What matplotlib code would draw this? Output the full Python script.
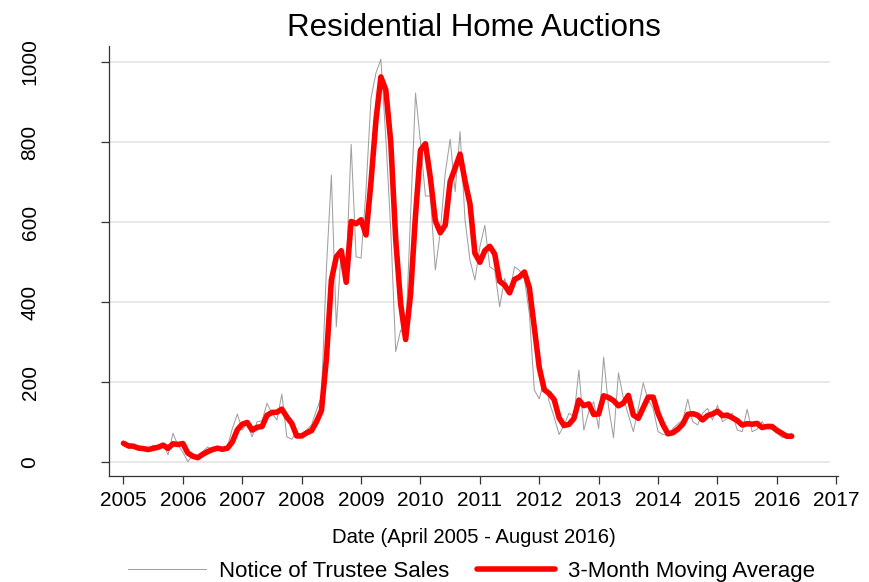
import numpy as np
import pandas as pd
import matplotlib
matplotlib.use('Agg')
import matplotlib.pyplot as plt

plt.rcParams['font.family'] = ['Liberation Sans', 'DejaVu Sans']

# Monthly notice of trustee sales (first point at 2005.0)
sales = [
    47, 34, 38, 33, 30, 31, 42, 38, 47, 18,
    72, 42, 25, 1, 18, 14, 26, 38, 30, 36,
    30, 38, 84, 120, 80, 97, 63, 101, 103, 147,
    122, 105, 170, 63, 57, 76, 63, 80, 93, 130,
    164, 484, 717, 338, 530, 480, 794, 513, 510, 680,
    909, 972, 1007, 811, 580, 276, 330, 313, 617, 922,
    800, 665, 665, 480, 575, 722, 807, 676, 826, 605,
    505, 455, 538, 592, 488, 480, 388, 459, 422, 488,
    479, 458, 370, 180, 158, 205, 151, 113, 69, 92,
    122, 113, 230, 80, 126, 151, 84, 262, 138, 61,
    223, 159, 118, 76, 134, 198, 155, 134, 76, 69,
    67, 84, 96, 105, 157, 101, 93, 122, 134, 105,
    142, 101, 109, 122, 80, 76, 132, 76, 82, 101,
    84, 82, 72, 62, 60, 72,
]
start_year = 2005
year_ticks = list(range(2005, 2018))
value_ticks = [0, 200, 400, 600, 800, 1000]

df = pd.DataFrame({'sales': sales})
df['date'] = start_year + np.arange(len(df)) / 12
df['ma3'] = df['sales'].rolling(3, min_periods=1).mean()

fig = plt.figure(figsize=(8.69, 5.82), dpi=100)
ax = fig.add_axes([0.1254, 0.182, 0.839, 0.739])

ax.set_xlim(2004.756, 2017.03)
ax.set_ylim(-35, 1040)

grid_end = (2016.88 - 2004.756) / (2017.03 - 2004.756)
for v in value_ticks:
    ax.axhline(v, xmin=0, xmax=grid_end, color='#e6e6e6', lw=1.3, zorder=0)

ax.plot(df['date'], df['sales'], color='#a0a0a0', lw=0.75,
        label='Notice of Trustee Sales', zorder=2)
ax.plot(df['date'], df['ma3'], color='#ff0000', lw=4.0,
        solid_joinstyle='round', solid_capstyle='round',
        label='3-Month Moving Average', zorder=3)

ax.set_xticks(year_ticks)
ax.set_yticks(value_ticks)
ax.tick_params(axis='both', direction='out', length=6, width=0.9,
               color='#333333', labelsize=15)
ax.tick_params(axis='x', pad=5)
ax.tick_params(axis='y', pad=44)
for lab in ax.get_yticklabels():
    lab.set_rotation(90)
    lab.set_va('center')

for side in ['top', 'right']:
    ax.spines[side].set_visible(False)
for side in ['left', 'bottom']:
    ax.spines[side].set_color('#333333')
    ax.spines[side].set_linewidth(0.9)

ax.set_title('Residential Home Auctions', fontsize=22.5, pad=7)
ax.set_xlabel('Date (April 2005 - August 2016)', fontsize=14.6, labelpad=13)

leg = fig.legend(loc='lower center', bbox_to_anchor=(0.5425, -0.034), ncol=2,
                 frameon=False, fontsize=16, handlelength=3.5,
                 handletextpad=0.6, columnspacing=1.25)

fig.savefig('out.png', dpi=100, facecolor='white')
